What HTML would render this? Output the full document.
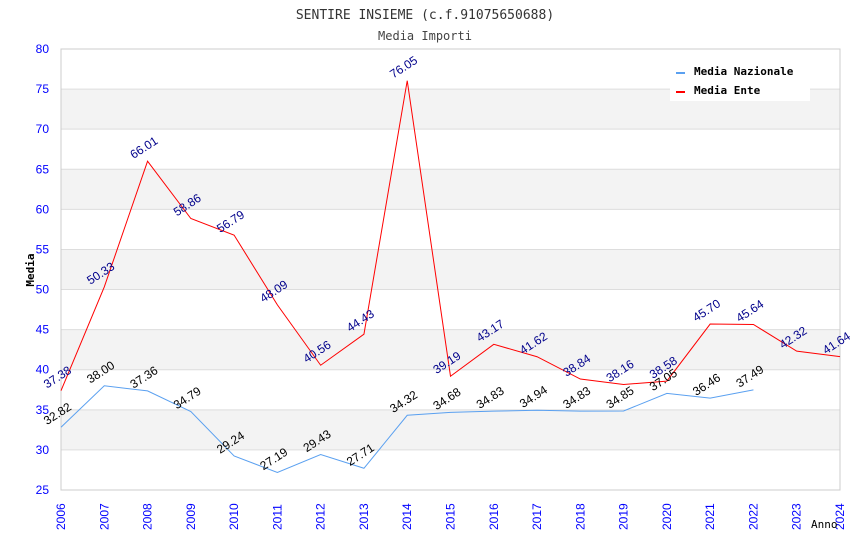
<!DOCTYPE html>
<html><head><meta charset="utf-8"><style>
body{margin:0;background:#fff;}
svg{display:block;}
</style></head><body>
<svg id="chart" width="850" height="550" xmlns="http://www.w3.org/2000/svg" font-family="Liberation Sans, sans-serif">
<text x="425" y="19" text-anchor="middle" font-family="DejaVu Sans Mono, monospace" font-size="13" fill="#333">SENTIRE INSIEME (c.f.91075650688)</text>
<text x="425" y="40" text-anchor="middle" font-family="DejaVu Sans Mono, monospace" font-size="12" fill="#444">Media Importi</text>
<g id="bands"></g><g id="grid"></g><g id="axes"></g><g id="lines"></g><g id="labels"></g>
<text transform="translate(34,270) rotate(-90)" text-anchor="middle" font-family="DejaVu Sans Mono, monospace" font-size="11" font-weight="bold" fill="#000">Media</text>
<text x="811" y="528" font-family="DejaVu Sans Mono, monospace" font-size="11" fill="#000">Anno</text>
<g>
<rect x="670" y="61" width="140" height="40" fill="#fff"/>
<rect x="676" y="72" width="9" height="2" fill="#5aa0f0"/>
<text x="694" y="75" font-family="DejaVu Sans Mono, monospace" font-size="11" font-weight="bold">Media Nazionale</text>
<rect x="676" y="91" width="9" height="2" fill="#f00"/>
<text x="694" y="94" font-family="DejaVu Sans Mono, monospace" font-size="11" font-weight="bold">Media Ente</text>
</g>
</svg>
<script>
const years=[2006,2007,2008,2009,2010,2011,2012,2013,2014,2015,2016,2017,2018,2019,2020,2021,2022,2023,2024];
const mediaNazionale=[32.82,38.00,37.36,34.79,29.24,27.19,29.43,27.71,34.32,34.68,34.83,34.94,34.83,34.85,37.05,36.46,37.49,null,null];
const mediaEnte=[37.38,50.33,66.01,58.86,56.79,48.09,40.56,44.43,76.05,39.19,43.17,41.62,38.84,38.16,38.58,45.70,45.64,42.32,41.64];
const yTicks=[25,30,35,40,45,50,55,60,65,70,75,80];
const L=61,R=840,T=49,B=490,ymin=25,ymax=80;
const NS='http://www.w3.org/2000/svg';
const xs=i=>L+(R-L)*i/(years.length-1);
const ys=v=>B-(v-ymin)/(ymax-ymin)*(B-T);
function mk(tag,attrs,parent){const e=document.createElementNS(NS,tag);for(const k in attrs)e.setAttribute(k,attrs[k]);document.getElementById(parent).appendChild(e);return e;}
for(let i=0;i<yTicks.length-1;i++){
  if(i%2===1){const r=mk('rect',{x:L,y:ys(yTicks[i+1]),width:R-L,height:ys(yTicks[i])-ys(yTicks[i+1]),fill:'#f3f3f3'},'bands');
  
  }
}
yTicks.forEach(t=>{
  const g=mk('line',{x1:L,x2:R,y1:ys(t),y2:ys(t),stroke:'#ddd'},'grid');
  
  
  const tx=mk('text',{x:49,y:ys(t)+4,'text-anchor':'end','font-size':'12',fill:'#00f'},'axes');
  tx.textContent=t;
  
  
});
mk('rect',{x:L,y:T,width:R-L,height:B-T,fill:'none',stroke:'#ccc'},'axes');
years.forEach((y,i)=>{
  const tx=mk('text',{transform:`translate(${xs(i)+4},${B+40}) rotate(-90)`,'font-size':'12',fill:'#00f'},'axes');
  tx.textContent=y;
  
  
});
function series(vals,color,lc,name){
  let d='';vals.forEach((v,i)=>{if(v==null)return;d+=(d?'L':'M')+xs(i)+','+ys(v);});
  const p=mk('path',{d:d,fill:'none',stroke:color,'stroke-width':'1'},'lines');
  
  
  vals.forEach((v,i)=>{if(v==null)return;
    const t=mk('text',{transform:`translate(${xs(i)-14},${ys(v)-2}) rotate(-33)`,'font-size':'12',fill:lc},'labels');
    t.textContent=v.toFixed(2);
    
    });
}
series(mediaNazionale,'#5aa0f0','#000','media-nazionale');
series(mediaEnte,'#f00','#00008b','media-ente');
</script>
</body></html>
